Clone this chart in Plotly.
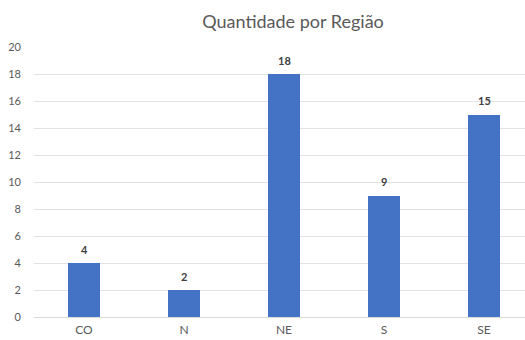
import plotly.graph_objects as go

regioes = ["CO", "N", "NE", "S", "SE"]
quantidade = [4, 2, 18, 9, 15]
y_ticks = list(range(0, 21, 2))

W, H = 525, 340
left, right, top, bottom = 34, 0, 47, 23  # plot area in px

fig = go.Figure(
    go.Bar(
        x=regioes,
        y=quantidade,
        width=0.32,
        marker=dict(color="#4472C4", line=dict(width=0)),
    )
)

# value labels above each bar
for reg, val in zip(regioes, quantidade):
    fig.add_annotation(
        x=reg,
        y=val,
        text=str(val),
        showarrow=False,
        yanchor="middle",
        yshift=14,
        font=dict(family="Lato, sans-serif", size=11, color="#404040", weight="bold"),
    )

fig.update_layout(
    width=W,
    height=H,
    margin=dict(l=left, r=right, t=top, b=bottom, pad=0),
    paper_bgcolor="white",
    plot_bgcolor="white",
    showlegend=False,
    bargap=0,
    font=dict(family="Lato, sans-serif", size=11, color="#595959"),
    title=dict(
        text="Quantidade por Região",
        font=dict(family="Lato, sans-serif", size=18, color="#595959"),
        x=293 / W,
        xanchor="center",
        y=1 - 22 / H,
        yanchor="middle",
    ),
)

fig.update_xaxes(
    type="category",
    range=[-0.5, 4.41],
    showgrid=False,
    showline=False,
    ticks="",
    tickfont=dict(size=12, color="#595959"),
    ticklabelstandoff=4,
)

fig.update_yaxes(
    range=[0, 20],
    tickvals=y_ticks,
    showgrid=True,
    gridcolor="#e3e3e3",
    gridwidth=1,
    zeroline=True,
    zerolinecolor="#d9d9d9",
    zerolinewidth=1,
    showline=False,
    ticks="",
    tickfont=dict(size=11, color="#595959"),
    ticklabelstandoff=12,
)

fig.write_html("out.html")
